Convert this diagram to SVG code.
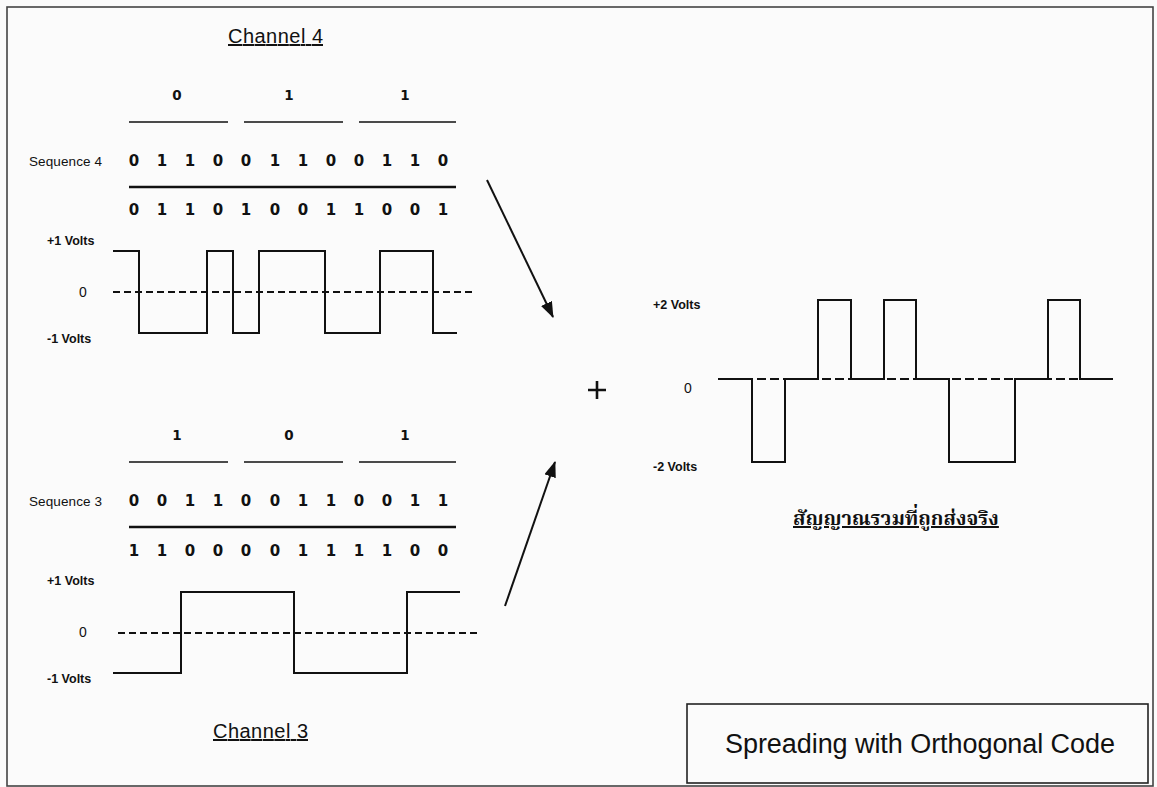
<svg xmlns="http://www.w3.org/2000/svg" width="1157" height="787" viewBox="0 0 1157 787">
  <defs>
    <style>
      .title { font-family: "Liberation Sans", Arial, sans-serif; font-size: 20px; fill: #111; text-decoration: underline; }
      .bit { font-family: "DejaVu Sans", sans-serif; font-weight: bold; font-size: 13.5px; fill: #111; text-anchor: middle; }
      .chip { font-family: "DejaVu Sans", sans-serif; font-weight: bold; font-size: 15px; fill: #111; text-anchor: middle; }
      .seq { font-family: "Liberation Sans", Arial, sans-serif; font-size: 13.5px; fill: #111; }
      .volt { font-family: "Liberation Sans", Arial, sans-serif; font-weight: bold; font-size: 12.5px; fill: #111; }
      .zero { font-family: "Liberation Sans", Arial, sans-serif; font-size: 14px; fill: #111; text-anchor: middle; }
      .seg { stroke: #111; stroke-width: 1.6; fill: none; }
      .rule { stroke: #111; stroke-width: 2.6; fill: none; }
      .wave { stroke: #111; stroke-width: 2; fill: none; stroke-linejoin: miter; }
      .axis { stroke: #111; stroke-width: 2; stroke-dasharray: 7 4; fill: none; }
      .arrow { stroke: #111; stroke-width: 2; fill: none; }
      .thai { font-family: "Noto Serif Thai", "Norasi", "Garuda", "Loma", "Noto Sans Thai", "Tlwg Typo", "DejaVu Sans", sans-serif; font-weight: bold; font-size: 20px; fill: #111; text-decoration: underline; }
      .caption { font-family: "Liberation Sans", Arial, sans-serif; font-size: 27px; fill: #111; }
    </style>
    <marker id="head" markerWidth="16" markerHeight="12" refX="15" refY="6" orient="auto" markerUnits="userSpaceOnUse">
      <path d="M0,0 L16,6 L0,12 Z" fill="#111"/>
    </marker>
  </defs>

  <!-- page background and frame -->
  <rect x="0" y="0" width="1157" height="787" fill="#fbfbfb"/>
  <rect x="7" y="7" width="1146" height="779" fill="none" stroke="#444" stroke-width="1.6"/>

  <!-- Channel 4 -->
  <g id="channel4">
    <text class="title" x="228" y="43" textLength="95">Channel 4</text>
    <text class="bit" x="177" y="100">0</text>
    <text class="bit" x="289" y="100">1</text>
    <text class="bit" x="405" y="100">1</text>
    <path class="seg" d="M129,122 H228 M244,122 H343 M359,122 H456"/>
    <text class="seq" x="29" y="166" textLength="73">Sequence 4</text>
    <g class="chip">
      <text x="134" y="166">0</text><text x="162" y="166">1</text><text x="190" y="166">1</text><text x="218" y="166">0</text>
      <text x="246" y="166">0</text><text x="275" y="166">1</text><text x="303" y="166">1</text><text x="331" y="166">0</text>
      <text x="359" y="166">0</text><text x="387" y="166">1</text><text x="415" y="166">1</text><text x="443" y="166">0</text>
    </g>
    <path class="rule" d="M129,187 H456"/>
    <g class="chip">
      <text x="134" y="215">0</text><text x="162" y="215">1</text><text x="190" y="215">1</text><text x="218" y="215">0</text>
      <text x="246" y="215">1</text><text x="275" y="215">0</text><text x="303" y="215">0</text><text x="331" y="215">1</text>
      <text x="359" y="215">1</text><text x="387" y="215">0</text><text x="415" y="215">0</text><text x="443" y="215">1</text>
    </g>
    <text class="volt" x="47" y="245">+1 Volts</text>
    <text class="zero" x="83" y="297">0</text>
    <text class="volt" x="47" y="343">-1 Volts</text>
    <path class="axis" d="M113,292 H473"/>
    <path class="wave" d="M113,251 H139 V333 H207 V251 H233 V333 H259 V251 H325 V333 H380 V251 H433 V333 H457"/>
  </g>

  <!-- Channel 3 -->
  <g id="channel3">
    <text class="bit" x="177" y="440">1</text>
    <text class="bit" x="289" y="440">0</text>
    <text class="bit" x="405" y="440">1</text>
    <path class="seg" d="M129,462 H228 M244,462 H343 M359,462 H456"/>
    <text class="seq" x="29" y="506" textLength="73">Sequence 3</text>
    <g class="chip">
      <text x="134" y="506">0</text><text x="162" y="506">0</text><text x="190" y="506">1</text><text x="218" y="506">1</text>
      <text x="246" y="506">0</text><text x="275" y="506">0</text><text x="303" y="506">1</text><text x="331" y="506">1</text>
      <text x="359" y="506">0</text><text x="387" y="506">0</text><text x="415" y="506">1</text><text x="443" y="506">1</text>
    </g>
    <path class="rule" d="M129,527 H456"/>
    <g class="chip">
      <text x="134" y="556">1</text><text x="162" y="556">1</text><text x="190" y="556">0</text><text x="218" y="556">0</text>
      <text x="246" y="556">0</text><text x="275" y="556">0</text><text x="303" y="556">1</text><text x="331" y="556">1</text>
      <text x="359" y="556">1</text><text x="387" y="556">1</text><text x="415" y="556">0</text><text x="443" y="556">0</text>
    </g>
    <text class="volt" x="47" y="585">+1 Volts</text>
    <text class="zero" x="83" y="637">0</text>
    <text class="volt" x="47" y="683">-1 Volts</text>
    <path class="axis" d="M118,633 H480"/>
    <path class="wave" d="M113,673 H181 V592 H294 V673 H407 V592 H460"/>
    <text class="title" x="213" y="738" textLength="95">Channel 3</text>
  </g>

  <!-- connectors into the sum -->
  <g id="connectors">
    <line class="arrow" x1="487" y1="180" x2="553" y2="317" marker-end="url(#head)"/>
    <line class="arrow" x1="505" y1="606" x2="555" y2="462" marker-end="url(#head)"/>
  </g>

  <!-- summing sign -->
  <g id="plus">
    <path d="M588,390 H606 M597,381 V399" stroke="#111" stroke-width="2.6" fill="none"/>
  </g>

  <!-- combined transmitted signal -->
  <g id="combined">
    <text class="volt" x="653" y="309">+2 Volts</text>
    <text class="zero" x="688" y="393">0</text>
    <text class="volt" x="653" y="471">-2 Volts</text>
    <path class="axis" d="M718,379 H1113" style="stroke-dasharray: 9 4"/>
    <path class="wave" d="M718,379 H752 V462 H785 V379 H818 V300 H851 V379 H884 V300 H916 V379 H949 V462 H1015 V379 H1048 V300 H1080 V379 H1113"/>
    <text class="thai" x="793" y="525">สัญญาณรวมที่ถูกส่งจริง</text>
  </g>

  <!-- caption box -->
  <g id="caption">
    <rect x="687" y="704" width="461" height="79" fill="none" stroke="#222" stroke-width="1.6"/>
    <text class="caption" x="725" y="753" textLength="390">Spreading with Orthogonal Code</text>
  </g>
</svg>
